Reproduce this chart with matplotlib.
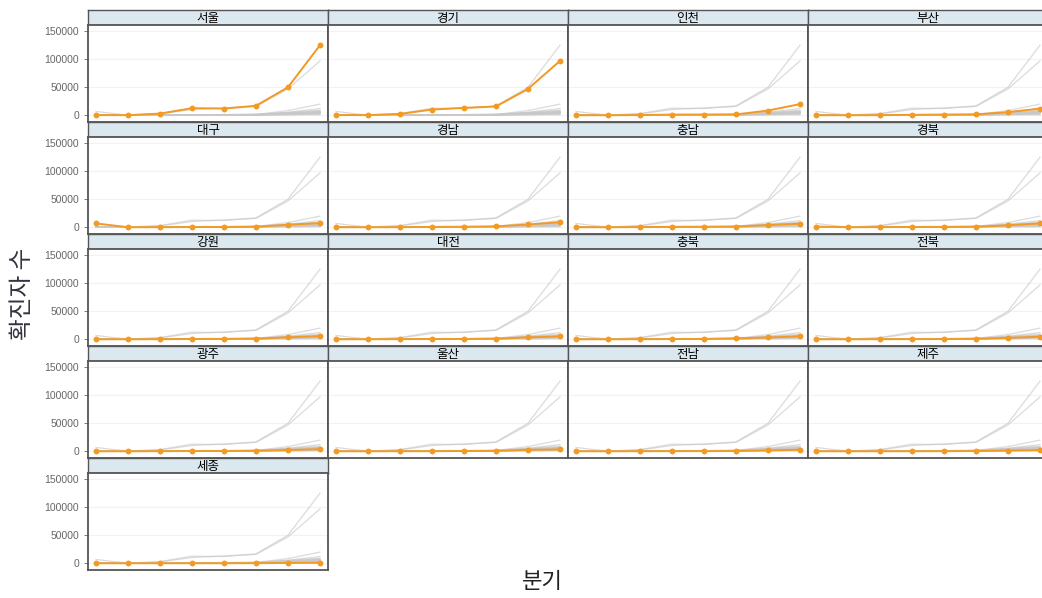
import numpy as np
import matplotlib
matplotlib.use('Agg')
import matplotlib.pyplot as plt

plt.rcParams['font.family'] = ['Noto Sans CJK KR', 'DejaVu Sans']

# quarters (8 of them, no tick labels shown)
quarters = [1, 2, 3, 4, 5, 6, 7, 8]

regions = ['서울', '경기', '인천', '부산', '대구', '경남', '충남', '경북',
           '강원', '대전', '충북', '전북', '광주', '울산', '전남', '제주', '세종']

# confirmed cases per quarter
seoul = [300, 200, 3000, 12600, 12000, 16900, 50000, 125000]
gyeonggi = [400, 300, 2400, 10200, 13200, 15700, 47000, 97000]
incheon = [100, 100, 300, 1200, 1300, 1500, 8400, 19900]
busan = [100, 100, 200, 800, 1200, 1600, 5500, 12000]
daegu = [6800, 100, 200, 400, 500, 900, 4500, 7500]
gyeongnam = [100, 100, 200, 600, 900, 1500, 5000, 9000]
chungnam = [100, 100, 300, 800, 900, 1200, 4000, 6500]
gyeongbuk = [1300, 100, 300, 500, 700, 900, 3500, 7000]
gangwon = [50, 50, 100, 500, 700, 1100, 3500, 5500]
daejeon = [40, 100, 200, 500, 500, 1000, 3500, 5000]
chungbuk = [40, 30, 100, 400, 600, 1600, 3200, 5200]
jeonbuk = [20, 30, 100, 300, 400, 800, 2500, 4500]
gwangju = [30, 30, 200, 400, 500, 800, 2200, 3800]
ulsan = [30, 20, 100, 200, 500, 600, 2600, 3300]
jeonnam = [20, 20, 100, 300, 300, 400, 1500, 2800]
jeju = [10, 10, 50, 100, 200, 400, 1300, 2000]
sejong = [10, 40, 50, 80, 100, 200, 600, 900]

series = [seoul, gyeonggi, incheon, busan, daegu, gyeongnam, chungnam, gyeongbuk,
          gangwon, daejeon, chungbuk, jeonbuk, gwangju, ulsan, jeonnam, jeju, sejong]

y_ticks = [0, 50000, 100000, 150000]

# styles
HIGHLIGHT_COLOR = '#F39A25'
GRAY_COLOR = '#c8c8c8'
BORDER_COLOR = '#555555'
STRIP_COLOR = '#dbe8ef'
TICK_COLOR = '#666666'

W, H = 1042, 598
fig = plt.figure(figsize=(W / 100, H / 100), dpi=100)

# panel layout in pixels
COL_LEFT = 88
COL_WIDTH = 240
ROW_TOP = 10
STRIP_H = 15
PLOT_H = 97
ROW_H = STRIP_H + PLOT_H


def px_axes(x0, y0, w, h):
    return fig.add_axes([x0 / W, 1 - (y0 + h) / H, w / W, h / H])


for i, (name, vals) in enumerate(zip(regions, series)):
    r, c = divmod(i, 4)
    x0 = COL_LEFT + c * COL_WIDTH
    y0 = ROW_TOP + r * ROW_H

    # strip with region name
    sax = px_axes(x0, y0, COL_WIDTH, STRIP_H)
    sax.set_facecolor(STRIP_COLOR)
    sax.set_xticks([])
    sax.set_yticks([])
    for sp in sax.spines.values():
        sp.set_color(BORDER_COLOR)
        sp.set_linewidth(1.0)
    sax.text(0.5, 0.45, name, ha='center', va='center', fontsize=9,
             color='black', transform=sax.transAxes)

    # plot panel
    ax = px_axes(x0, y0 + STRIP_H, COL_WIDTH, PLOT_H)
    for other in series:
        ax.plot(quarters, other, color=GRAY_COLOR, linewidth=0.9, alpha=0.65, zorder=2)
    ax.plot(quarters, vals, color=HIGHLIGHT_COLOR, linewidth=1.4, zorder=3)
    ax.scatter(quarters, vals, color=HIGHLIGHT_COLOR, s=18, zorder=4, linewidths=0)

    ax.set_xlim(0.75, 8.25)
    ax.set_ylim(-12000, 161000)
    ax.set_xticks([])
    ax.set_yticks(y_ticks)
    ax.grid(axis='y', color='#f2f2f2', linewidth=0.8)
    ax.set_axisbelow(True)
    for sp in ax.spines.values():
        sp.set_color(BORDER_COLOR)
        sp.set_linewidth(1.3)
    if c == 0:
        ax.set_yticklabels([str(v) for v in y_ticks], family='Liberation Sans')
        ax.tick_params(axis='y', labelsize=7.5, colors=TICK_COLOR, length=3, width=0.6)
    else:
        ax.tick_params(axis='y', left=False, labelleft=False)

fig.text(23 / W, 1 - 294 / H, '확진자 수', rotation=90, ha='center', va='center',
         fontsize=17, color='#333340')
fig.text(542 / W, 1 - 582 / H, '분기', ha='center', va='center',
         fontsize=16, color='#222222')

fig.savefig('out.png', dpi=100, facecolor='white')
